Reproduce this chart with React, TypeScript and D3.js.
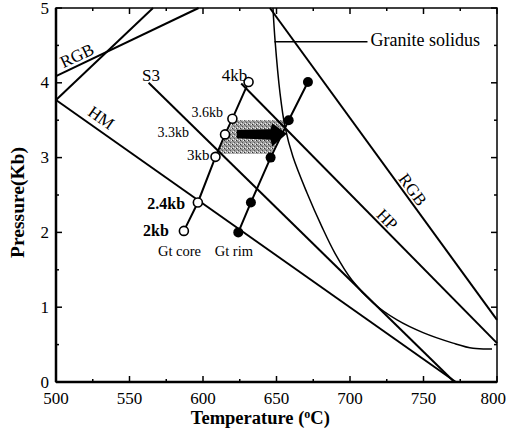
import React from "react";
import * as d3 from "d3";

const xTicks = [500, 550, 600, 650, 700, 750, 800];
const yTicks = [0, 1, 2, 3, 4, 5];

const coreT = [587, 596.5, 608.5, 615, 620, 631];
const coreP = [2.02, 2.4, 3.01, 3.31, 3.52, 4.01];
const rimT = [624, 632.6, 646, 658.3, 671.4];
const rimP = [2.0, 2.4, 3.0, 3.5, 4.01];

const rgbLeft: [number, number][] = [[500, 4.09], [597, 5]];
const unnamed: [number, number][] = [[500, 3.77], [566, 5]];
const hmLine: [number, number][] = [[500, 3.77], [772, 0]];
const s3Line: [number, number][] = [[563, 4.0], [771, 0]];
const hpLine: [number, number][] = [[626, 3.99], [800, 0.52]];
const rgbRight: [number, number][] = [[645.5, 5], [800, 0.83]];
const solidus: [number, number][] = [
  [647.6, 5.0], [649.0, 4.57], [652.4, 3.86], [655.8, 3.41], [661.2, 3.01],
  [670.7, 2.53], [681.0, 2.07], [689.8, 1.72], [701.4, 1.36], [715.6, 1.06],
  [732.0, 0.83], [749.7, 0.66], [770.1, 0.52], [783.7, 0.45], [796.6, 0.44],
];
const shaded: [number, number][] = [[621, 3.5], [657, 3.5], [646.5, 3.05], [609.5, 3.05]];
const arrowShape: [number, number][] = [
  [623, 3.37], [646, 3.38], [647, 3.46], [657, 3.32], [647, 3.15], [646, 3.24], [623, 3.26],
];

const W = 507, H = 435;
const x = d3.scaleLinear().domain([500, 800]).range([56, 497]);
const y = d3.scaleLinear().domain([0, 5]).range([382, 8]);
const line = d3.line<[number, number]>().x(d => x(d[0])).y(d => y(d[1]));
const curve = d3.line<[number, number]>().x(d => x(d[0])).y(d => y(d[1])).curve(d3.curveCatmullRom.alpha(0.5));

const FONT = "'Liberation Serif', 'Times New Roman', serif";

function angle(seg: [number, number][]) {
  const dx = x(seg[1][0]) - x(seg[0][0]);
  const dy = y(seg[1][1]) - y(seg[0][1]);
  return (Math.atan2(dy, dx) * 180) / Math.PI;
}

export default function App() {
  const minorX = d3.range(500, 801, 25);
  const minorY = d3.range(0, 5.01, 0.5);
  const core: [number, number][] = coreT.map((t, i) => [t, coreP[i]]);
  const rim: [number, number][] = rimT.map((t, i) => [t, rimP[i]]);
  const rotLabel = (txt: string, T: number, P: number, seg: [number, number][], size = 14) => (
    <text
      x={x(T)} y={y(P)} fontSize={size} fontFamily={FONT} textAnchor="middle" dominantBaseline="central"
      transform={`rotate(${angle(seg)},${x(T)},${y(P)})`}
    >{txt}</text>
  );
  const small = (txt: string, T: number, P: number, size = 12, weight = "normal", anchor = "middle") => (
    <text x={x(T)} y={y(P)} fontSize={size} fontFamily={FONT} fontWeight={weight} textAnchor={anchor}>{txt}</text>
  );
  return (
    <svg width={W} height={H} style={{ position: "absolute", left: 0, top: 0, background: "#fff" }}>
      <defs>
        <pattern id="stip" width="4" height="4" patternUnits="userSpaceOnUse">
          <rect width="4" height="4" fill="#a0a0a0" />
          <rect x="0" y="0" width="1" height="1" fill="#333" />
          <rect x="2" y="2" width="1" height="1" fill="#555" />
          <rect x="3" y="0" width="1" height="1" fill="#eee" />
          <rect x="1" y="3" width="1" height="1" fill="#eee" />
          <rect x="1" y="1" width="1" height="1" fill="#777" />
        </pattern>
      </defs>
      {/* frame */}
      <rect x={x(500)} y={y(5)} width={x(800) - x(500)} height={y(0) - y(5)} fill="none" stroke="#000" strokeWidth={1.5} />
      <line x1={x(500)} x2={x(800)} y1={y(0)} y2={y(0)} stroke="#000" strokeWidth={2.5} />
      <line x1={x(500)} x2={x(500)} y1={y(0)} y2={y(5)} stroke="#000" strokeWidth={2.5} />
      {/* ticks */}
      {minorX.map(t => {
        const len = t % 50 === 0 ? 6 : 3;
        return (
          <g key={"xt" + t}>
            <line x1={x(t)} x2={x(t)} y1={y(0)} y2={y(0) - len} stroke="#000" strokeWidth={1.5} />
            <line x1={x(t)} x2={x(t)} y1={y(5)} y2={y(5) + len} stroke="#000" strokeWidth={1.5} />
          </g>
        );
      })}
      {minorY.map(p => {
        const len = Math.abs(p - Math.round(p)) < 0.01 ? 6 : 3;
        return (
          <g key={"yt" + p}>
            <line x1={x(500)} x2={x(500) + len} y1={y(p)} y2={y(p)} stroke="#000" strokeWidth={1.5} />
            <line x1={x(800)} x2={x(800) - len} y1={y(p)} y2={y(p)} stroke="#000" strokeWidth={1.5} />
          </g>
        );
      })}
      {xTicks.map((t, i) => {
        const last = i === xTicks.length - 1;
        return (
          <text key={"xl" + t} x={last ? W - 1 : x(t)} y={y(0) + 22} fontSize={17} fontFamily={FONT} textAnchor={last ? "end" : "middle"}>{t}</text>
        );
      })}
      {yTicks.map(p => (
        <text key={"yl" + p} x={x(500) - 7} y={y(p)} fontSize={17} fontFamily={FONT} textAnchor="end" dominantBaseline="central">{p}</text>
      ))}
      <text x={x(639)} y={y(0) + 42} fontSize={18.5} fontWeight="bold" fontFamily={FONT} textAnchor="middle">
        Temperature (<tspan fontSize={12} dy={-6}>o</tspan><tspan dy={6}>C)</tspan>
      </text>
      <text transform={`translate(17,${y(2.4)}) rotate(-90)`} fontSize={19.5} fontWeight="bold" fontFamily={FONT} textAnchor="middle" dominantBaseline="central">Pressure(Kb)</text>

      {/* shaded area */}
      <path d={line(shaded) + "Z"} fill="url(#stip)" stroke="none" />
      <path d={line(arrowShape) + "Z"} fill="#000" />

      {/* reaction lines */}
      {[rgbLeft, unnamed, hmLine, s3Line, hpLine, rgbRight].map((seg, i) => (
        <path key={"ln" + i} d={line(seg) || ""} fill="none" stroke="#000" strokeWidth={2} />
      ))}
      <path d={curve(solidus) || ""} fill="none" stroke="#000" strokeWidth={1.5} />
      <line x1={x(648.6)} x2={x(711.9)} y1={y(4.55)} y2={y(4.55)} stroke="#000" strokeWidth={1.5} />
      {small("Granite solidus", 713.9, 4.49, 18, "normal", "start")}

      {/* PT paths */}
      <path d={line(core) || ""} fill="none" stroke="#000" strokeWidth={2} />
      <path d={line(rim) || ""} fill="none" stroke="#000" strokeWidth={2} />
      {core.map((d, i) => (
        <circle key={"c" + i} cx={x(d[0])} cy={y(d[1])} r={4.5} fill="#fff" stroke="#000" strokeWidth={1.6} />
      ))}
      {rim.map((d, i) => (
        <circle key={"r" + i} cx={x(d[0])} cy={y(d[1])} r={5} fill="#000" />
      ))}

      {/* labels */}
      {rotLabel("RGB", 514.3, 4.36, rgbLeft, 17)}
      {rotLabel("HM", 530.7, 3.53, hmLine, 17)}
      {rotLabel("RGB", 742.5, 2.57, rgbRight, 17)}
      {rotLabel("HP", 725.2, 2.17, hpLine, 17)}
      {small("S3", 564.7, 4.02, 17)}
      {small("4kb", 621.5, 4.02, 17)}
      {small("3.6kb", 602.9, 3.54, 14)}
      {small("3.3kb", 579.7, 3.28, 14)}
      {small("3kb", 596.7, 2.97, 15)}
      {small("2.4kb", 575, 2.31, 16, "bold")}
      {small("2kb", 568, 1.95, 16, "bold")}
      {small("Gt core", 584, 1.68, 14.5)}
      {small("Gt rim", 621, 1.68, 14.5)}
    </svg>
  );
}
